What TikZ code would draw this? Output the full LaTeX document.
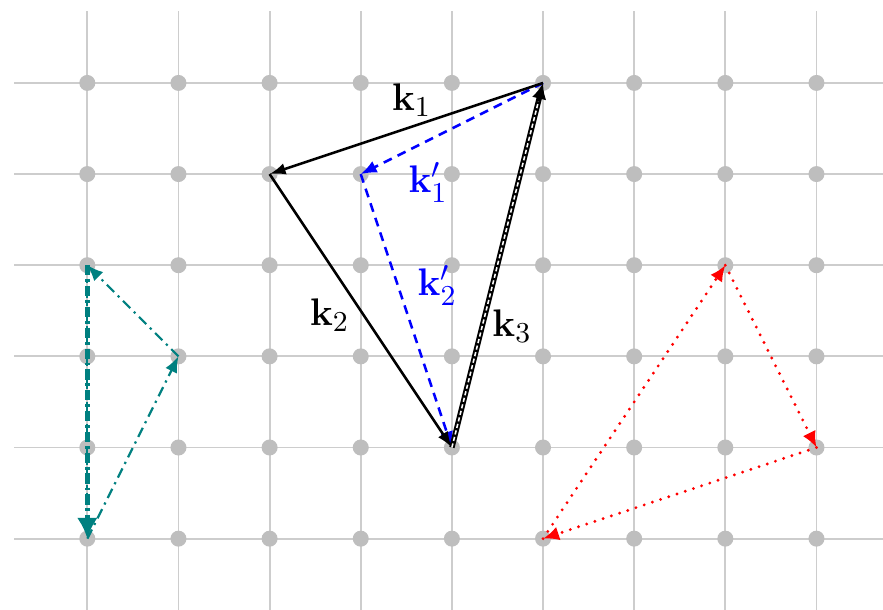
\documentclass[tikz,border=0pt]{standalone}
\usetikzlibrary{arrows.meta}
\definecolor{gridgray}{RGB}{205,205,205}
\definecolor{dotgray}{RGB}{190,190,190}
\definecolor{tealc}{RGB}{0,128,128}
\begin{document}
\begin{tikzpicture}[
  gridline/.style={gridgray, line width=0.6pt},
  gdot/.style={circle, fill=dotgray, inner sep=0pt, minimum size=5pt},
  blackarrow/.style={black, line width=0.8pt, -{Latex[length=5pt,width=3.6pt]}},
  thickarrow/.style={black, line width=1.7pt, -{Latex[length=5pt,width=4.6pt]}},
  whitedash/.style={white, line width=0.5pt, dash pattern=on 1.3pt off 0.8pt, shorten >=6pt},
  bluearrow/.style={blue, line width=0.8pt, dash pattern=on 2.8pt off 2pt, -{Latex[length=5pt,width=4pt]}},
  redarrow/.style={red, line width=1pt, line cap=round, dash pattern=on 0pt off 2.7pt, -{Latex[length=5pt,width=4.4pt]}},
  tealarrow/.style={tealc, line width=0.7pt, dash pattern=on 3.2pt off 1.6pt on 0.7pt off 1.6pt, -{Latex[length=5pt,width=4pt]}},
  tealthick/.style={tealc, line width=1.6pt, dash pattern=on 3.2pt off 1.2pt on 0.9pt off 1.2pt, -{Latex[length=6.5pt,width=6.5pt]}},
  lbl/.style={font=\fontsize{13}{15}\selectfont, inner sep=1pt}
]
\useasboundingbox (-0.958,-0.782) rectangle (8.730,5.910);
% grid
\foreach \y in {0,...,5} \draw[gridline] (-0.804,\y) -- (8.73,\y);
\foreach \x in {0,...,8} \draw[gridline] (\x,-0.782) -- (\x,5.793);
\foreach \x in {0,...,8} \foreach \y in {0,...,5} \node[gdot] (g\x-\y) at (\x,\y) {};
% named points
\coordinate (A) at (5,5);
\coordinate (B) at (2,4);
\coordinate (C) at (4,1);
\coordinate (D) at (3,4);
\coordinate (P) at (0,3);
\coordinate (Q) at (1,2);
\coordinate (R) at (0,0);
\coordinate (X) at (7,3);
\coordinate (Y) at (8,1);
\coordinate (Z) at (5,0);
% blue dashed
\draw[bluearrow] (A) -- (D);
\draw[bluearrow] (D) -- (C);
% black triangle
\draw[blackarrow] (A) -- (B);
\draw[blackarrow] (B) -- (C);
\draw[thickarrow] (C) -- (A);
\draw[whitedash] (C) -- (A);
% teal
\draw[tealthick] (P) -- (R);
\draw[tealc, line width=0.6pt, dash pattern=on 3.2pt off 1.6pt on 0.7pt off 1.6pt] (P) -- ([yshift=8pt]R);
\draw[tealarrow] (R) -- (Q);
\draw[tealarrow] (Q) -- (P);
% red
\draw[redarrow] (X) -- (Y);
\draw[redarrow] (Y) -- (Z);
\draw[redarrow] (Z) -- (X);
% labels
\node[lbl] (l1) at (3.56,4.81) {$\mathbf{k}_1$};
\node[lbl, blue] (l1p) at (3.74,3.91) {$\mathbf{k}_1'$};
\node[lbl] (l2) at (2.66,2.45) {$\mathbf{k}_2$};
\node[lbl, blue] (l2p) at (3.84,2.78) {$\mathbf{k}_2'$};
\node[lbl] (l3) at (4.66,2.33) {$\mathbf{k}_3$};
\end{tikzpicture}
\end{document}
